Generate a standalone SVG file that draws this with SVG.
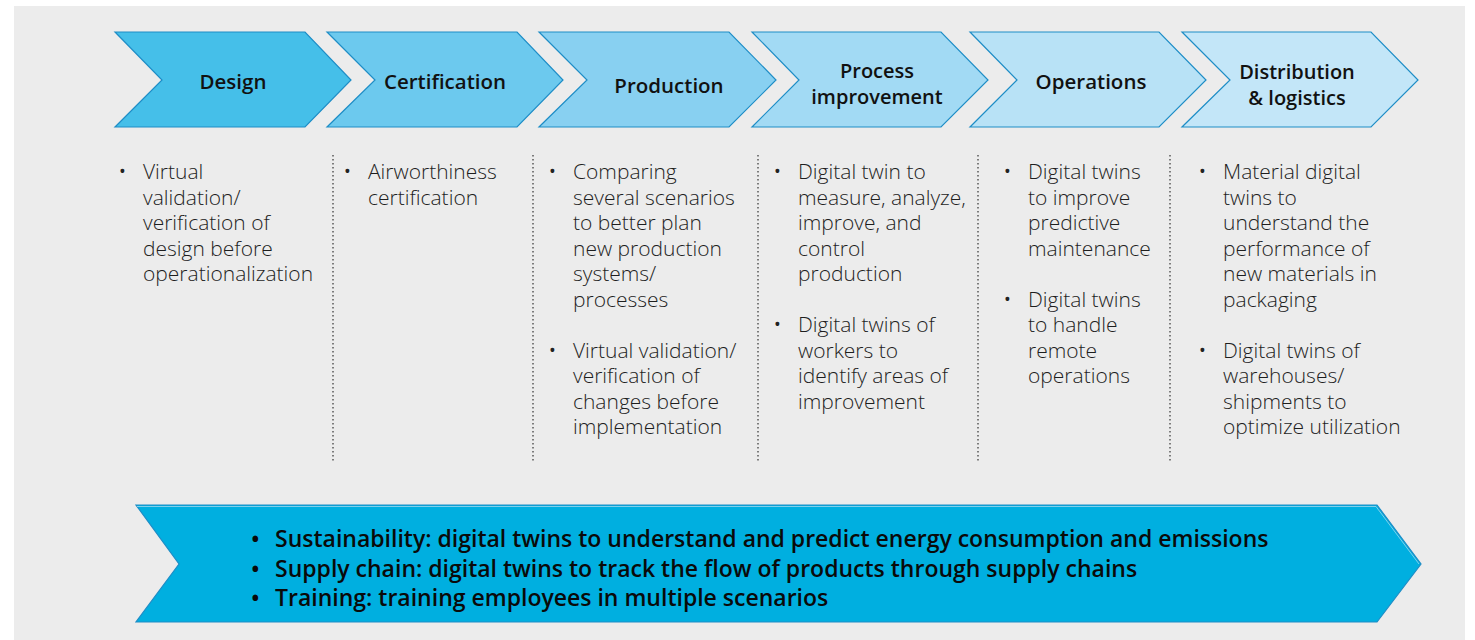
<svg xmlns="http://www.w3.org/2000/svg" width="1475" height="640" viewBox="0 0 1475 640">
<style>
.chev{stroke:#1e8dc6;stroke-width:1.2}
.lbl{font-family:"Open Sans","Noto Sans",sans-serif;font-weight:600;font-size:20.5px;fill:#111;text-anchor:middle}
.lbl2{font-family:"Open Sans","Noto Sans",sans-serif;font-weight:600;font-size:20px;fill:#111;text-anchor:middle}
.txt{font-family:"Open Sans","Noto Sans",sans-serif;font-weight:300;font-size:21px;fill:#1e1e1e}
.bul{font-family:"Open Sans","Noto Sans",sans-serif;font-size:18px;fill:#222}
.sep{stroke:#333;stroke-width:1.2;stroke-dasharray:1.5 2.5}
.bot{font-family:"Open Sans","Noto Sans",sans-serif;font-weight:600;font-size:23px;fill:#0a0a0a}
</style>
<rect x="0" y="0" width="1475" height="640" fill="#ffffff"/>
<rect x="14" y="6" width="1451" height="634" fill="#ececec"/>

<g id="design">
<polygon class="chev" fill="#45bfe9" points="115,32 305,32 351,80 305,127 115,127 162,80"/>
<text class="lbl" x="233" y="89">Design</text>
</g>
<g id="certification">
<polygon class="chev" fill="#6cc9ee" points="327,32 517,32 563,80 517,127 327,127 375,80"/>
<text class="lbl" x="445" y="89">Certification</text>
</g>
<g id="production">
<polygon class="chev" fill="#88d0f1" points="539,32 729,32 776,80 729,127 539,127 587,80"/>
<text class="lbl" x="669" y="93">Production</text>
</g>
<g id="process-improvement">
<polygon class="chev" fill="#a2daf4" points="752,32 941,32 988,80 941,127 752,127 799,80"/>
<text class="lbl2" x="877" y="78">Process</text>
<text class="lbl2" x="877" y="104">improvement</text>
</g>
<g id="operations">
<polygon class="chev" fill="#b8e2f6" points="970,32 1159,32 1206,80 1159,127 970,127 1017,80"/>
<text class="lbl" x="1091" y="89">Operations</text>
</g>
<g id="distribution">
<polygon class="chev" fill="#c3e6f8" points="1182,32 1371,32 1418,80 1371,127 1182,127 1230,80"/>
<text class="lbl2" x="1297" y="79">Distribution</text>
<text class="lbl2" x="1297" y="105">&amp; logistics</text>
</g>

<g id="separators">
<line class="sep" x1="333" y1="155" x2="333" y2="462"/>
<line class="sep" x1="533" y1="155" x2="533" y2="462"/>
<line class="sep" x1="758" y1="155" x2="758" y2="462"/>
<line class="sep" x1="978" y1="155" x2="978" y2="462"/>
<line class="sep" x1="1170" y1="155" x2="1170" y2="462"/>
</g>

<g id="col-design">
<text class="bul" x="119" y="178">•</text>
<text class="txt" x="143" y="179">Virtual</text>
<text class="txt" x="143" y="204.5">validation/</text>
<text class="txt" x="143" y="230">verification of</text>
<text class="txt" x="143" y="255.5">design before</text>
<text class="txt" x="143" y="281">operationalization</text>
</g>
<g id="col-certification">
<text class="bul" x="344" y="178">•</text>
<text class="txt" x="368" y="179">Airworthiness</text>
<text class="txt" x="368" y="204.5">certification</text>
</g>
<g id="col-production">
<text class="bul" x="549" y="178">•</text>
<text class="txt" x="573" y="179">Comparing</text>
<text class="txt" x="573" y="204.5">several scenarios</text>
<text class="txt" x="573" y="230">to better plan</text>
<text class="txt" x="573" y="255.5">new production</text>
<text class="txt" x="573" y="281">systems/</text>
<text class="txt" x="573" y="306.5">processes</text>
<text class="bul" x="549" y="356.5">•</text>
<text class="txt" x="573" y="357.5">Virtual validation/</text>
<text class="txt" x="573" y="383">verification of</text>
<text class="txt" x="573" y="408.5">changes before</text>
<text class="txt" x="573" y="434">implementation</text>
</g>
<g id="col-process">
<text class="bul" x="774" y="178">•</text>
<text class="txt" x="798" y="179">Digital twin to</text>
<text class="txt" x="798" y="204.5">measure, analyze,</text>
<text class="txt" x="798" y="230">improve, and</text>
<text class="txt" x="798" y="255.5">control</text>
<text class="txt" x="798" y="281">production</text>
<text class="bul" x="774" y="331">•</text>
<text class="txt" x="798" y="332">Digital twins of</text>
<text class="txt" x="798" y="357.5">workers to</text>
<text class="txt" x="798" y="383">identify areas of</text>
<text class="txt" x="798" y="408.5">improvement</text>
</g>
<g id="col-operations">
<text class="bul" x="1004" y="178">•</text>
<text class="txt" x="1028" y="179">Digital twins</text>
<text class="txt" x="1028" y="204.5">to improve</text>
<text class="txt" x="1028" y="230">predictive</text>
<text class="txt" x="1028" y="255.5">maintenance</text>
<text class="bul" x="1004" y="305.5">•</text>
<text class="txt" x="1028" y="306.5">Digital twins</text>
<text class="txt" x="1028" y="332">to handle</text>
<text class="txt" x="1028" y="357.5">remote</text>
<text class="txt" x="1028" y="383">operations</text>
</g>
<g id="col-distribution">
<text class="bul" x="1199" y="178">•</text>
<text class="txt" x="1223" y="179">Material digital</text>
<text class="txt" x="1223" y="204.5">twins to</text>
<text class="txt" x="1223" y="230">understand the</text>
<text class="txt" x="1223" y="255.5">performance of</text>
<text class="txt" x="1223" y="281">new materials in</text>
<text class="txt" x="1223" y="306.5">packaging</text>
<text class="bul" x="1199" y="356.5">•</text>
<text class="txt" x="1223" y="357.5">Digital twins of</text>
<text class="txt" x="1223" y="383">warehouses/</text>
<text class="txt" x="1223" y="408.5">shipments to</text>
<text class="txt" x="1223" y="434">optimize utilization</text>
</g>

<g id="cross-cutting">
<polygon fill="#00afe0" stroke="#1e8dc6" stroke-width="1.2" points="136,505 1377,505 1421,564 1377,622 136,622 179,564"/>
<polyline fill="none" stroke="#9fd8ef" stroke-width="0.8" points="137,506.5 1376,506.5 1419,564"/>
<text class="bot" x="251" y="547">•</text>
<text class="bot" x="275" y="547">Sustainability: digital twins to understand and predict energy consumption and emissions</text>
<text class="bot" x="251" y="577">•</text>
<text class="bot" x="275" y="577">Supply chain: digital twins to track the flow of products through supply chains</text>
<text class="bot" x="251" y="606">•</text>
<text class="bot" x="275" y="606">Training: training employees in multiple scenarios</text>
</g>
</svg>
